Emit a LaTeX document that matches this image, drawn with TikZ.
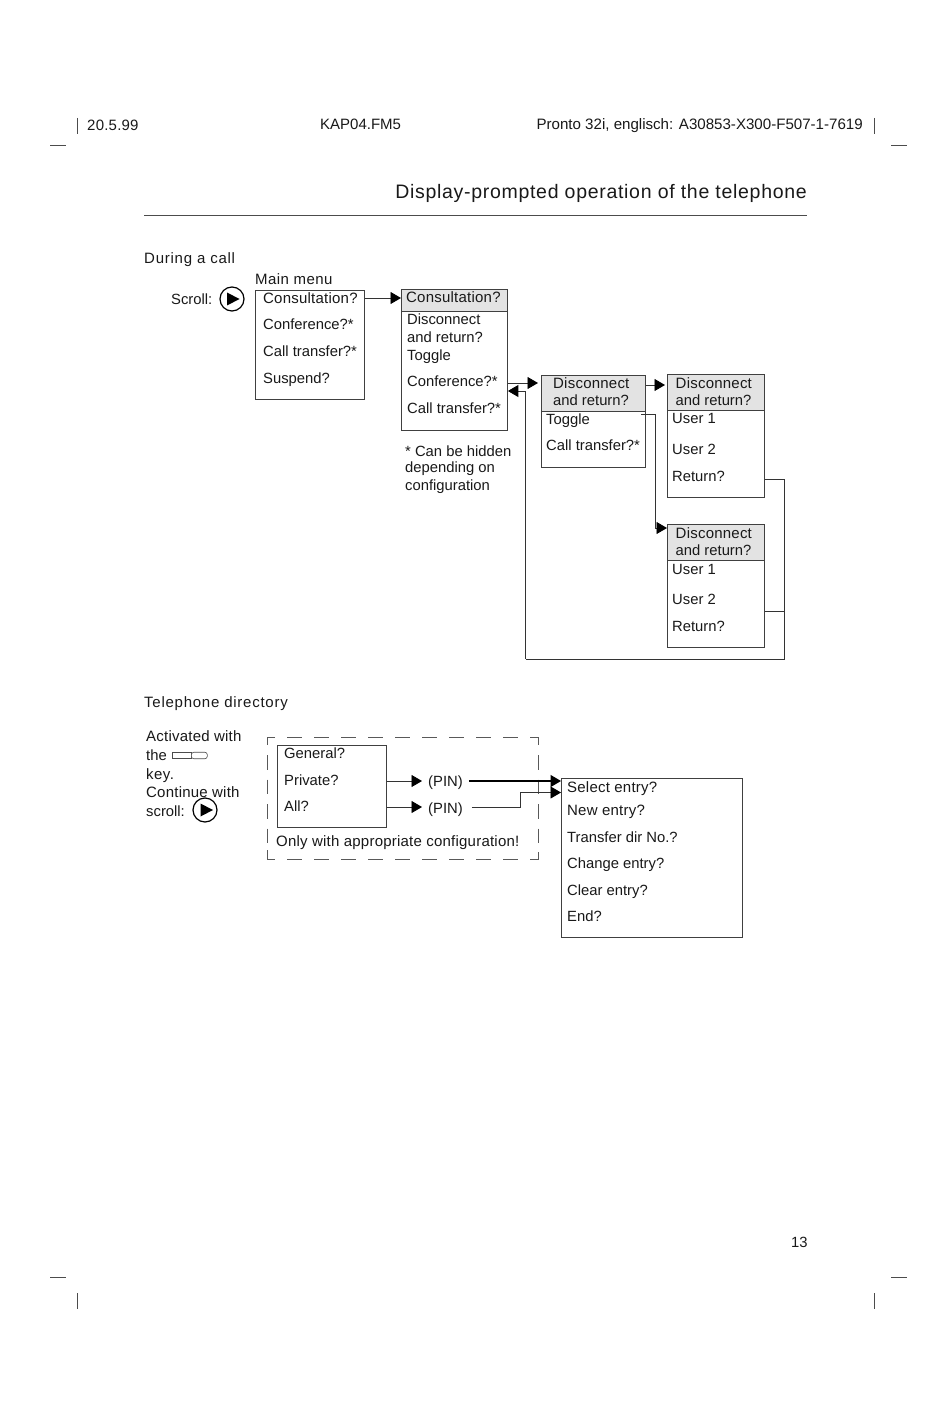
\documentclass[tikz,border=0pt]{standalone}
\usepackage{fontspec}
\setmainfont{Liberation Sans}
\newfontfamily\lsA[LetterSpace=1.5]{Liberation Sans}
\newfontfamily\lsB[LetterSpace=3]{Liberation Sans}
\newfontfamily\lsC[LetterSpace=5]{Liberation Sans}
\newfontfamily\lsT[LetterSpace=3.6]{Liberation Sans}
\usetikzlibrary{arrows.meta}
\tikzset{
  lbl/.style={anchor=base west,inner sep=0pt,font=\fontsize{14.8}{15}\selectfont,text=black!90},
  albl/.style={lbl,font=\fontsize{15}{15}\lsA},
  blbl/.style={lbl,font=\fontsize{15}{15}\lsB},
  clbl/.style={lbl,font=\fontsize{15}{15}\lsC},
  box/.style={draw=black!75,line width=0.9pt,anchor=north west,inner sep=0pt,minimum height=#1},
  hdr/.style={box=#1,fill=black!11},
  conn/.style={draw=black!80,line width=0.9pt},
  arr/.style={conn,-{Triangle[length=10.5pt,width=12pt,fill=black,color=black]}},
  trim/.style={draw=black!70,line width=0.8pt},
  scrollring/.style={circle,draw=black,line width=1.2pt,minimum size=24pt,inner sep=0pt},
  scrolltip/.style={fill=black,draw=none},
  keycap/.style={draw=black!70,line width=0.6pt,fill=white,minimum height=6.5pt,inner sep=0pt,anchor=west},
  frame/.style={draw=black!65,line width=0.8pt}
}
\begin{document}
\begin{tikzpicture}[x=1pt,y=-1pt]
\path[use as bounding box,fill=white] (0,0) rectangle (950,1420);
% crop marks
\draw[trim] (77,118)--(77,134) (874,118)--(874,134) (50,145)--(66,145) (891,145)--(907,145)
 (50,1277)--(66,1277) (891,1277)--(907,1277) (77,1293)--(77,1309) (874,1293)--(874,1309);
% header
\node[albl] (date) at (87,131) {20.5.99};
\node[lbl,font=\fontsize{15}{15}\selectfont] (file) at (320,130) {KAP04.FM5};
\node[lbl,anchor=base east,font=\fontsize{15.1}{15}\selectfont] (prod) at (863,130) {Pronto 32i, englisch: A30853-X300-F507-1-7619};
\node[lbl,anchor=base east,font=\fontsize{19.5}{20}\lsT] (title) at (807,199) {Display-prompted operation of the telephone};
\draw[trim] (144,215.5)--(807,215.5);
\node[lbl] (pageno) at (791,1247) {13};
% During a call
\node[clbl] (during) at (144,264) {During a call};
\node[blbl] (mainmenu) at (255,285) {Main menu};
\node[lbl] (scrolltxt) at (171,305) {Scroll:};
\node[scrollring] (ring1) at (232,299) {};
\fill[scrolltip] (227,292.5)--(239.5,299)--(227,305.5)--cycle;
% main box
\node[box=109pt,minimum width=109pt] (mainbox) at (255,290) {};
\node[albl] (m1) at (263,303) {Consultation?};
\node[lbl] (m2) at (263,329) {Conference?*};
\node[lbl] (m3) at (263,356) {Call transfer?*};
\node[lbl] (m4) at (263,383) {Suspend?};
% consultation box
\node[hdr=22pt,minimum width=106pt] (subhead) at (401,289) {};
\node[box=141pt,minimum width=106pt] (subbox) at (401,289) {};
\node[albl] (s1) at (406,302) {Consultation?};
\node[lbl] (s2) at (407,324) {Disconnect};
\node[lbl] (s3) at (407,342) {and return?};
\node[lbl] (s4) at (407,360) {Toggle};
\node[lbl] (s5) at (407,386.5) {Conference?*};
\node[lbl] (s6) at (407,413.5) {Call transfer?*};
\node[lbl] (n1) at (405,456) {* Can be hidden};
\node[lbl] (n2) at (405,472) {depending on};
\node[lbl] (n3) at (405,490) {configuration};
% box 3
\node[hdr=36pt,minimum width=104pt] (dhead) at (541,375) {};
\node[box=92pt,minimum width=104pt] (dbox) at (541,375) {};
\node[albl] (d1) at (553,388) {Disconnect};
\node[lbl] (d2) at (553,405) {and return?};
\node[lbl] (d3) at (546,424) {Toggle};
\node[lbl] (d4) at (546,450) {Call transfer?*};
% box 4
\node[hdr=36pt,minimum width=97pt] (uhead) at (667,374) {};
\node[box=123pt,minimum width=97pt] (ubox) at (667,374) {};
\node[albl] (u1) at (675.5,388) {Disconnect};
\node[lbl] (u2) at (675.5,405) {and return?};
\node[lbl] (u3) at (672,423.5) {User 1};
\node[lbl] (u4) at (672,454) {User 2};
\node[lbl] (u5) at (672,481) {Return?};
% box 5
\node[hdr=36pt,minimum width=97pt] (vhead) at (667,524) {};
\node[box=123pt,minimum width=97pt] (vbox) at (667,524) {};
\node[albl] (v1) at (675.5,538) {Disconnect};
\node[lbl] (v2) at (675.5,555) {and return?};
\node[lbl] (v3) at (672,574) {User 1};
\node[lbl] (v4) at (672,604) {User 2};
\node[lbl] (v5) at (672,631) {Return?};
% connectors, upper part
\coordinate (toggleout) at (641,414.5);
\coordinate (ubend) at (784,479);
\coordinate (lbend) at (784,659);
\coordinate (lcorner) at (525.5,659);
\draw[arr] (mainbox.east |- 0,298) -- (subbox.west |- 0,298);
\draw[arr,shorten >=3pt] (subbox.east |- 0,383) -- (dbox.west |- 0,383);
\draw[arr,shorten >=2pt] (dbox.east |- 0,385) -- (ubox.west |- 0,385);
\draw[arr] (toggleout) -| (655,528) -- (vbox.west |- 0,528);
\draw[conn] (ubox.east |- ubend) -- (ubend) -- (lbend) -- (lcorner);
\draw[conn] (vbox.east |- 0,611) -- (784,611);
\draw[arr] (lcorner) -- (525.5,391) -- (subbox.east |- 0,391);
% Telephone directory
\node[clbl] (teldir) at (144,707) {Telephone directory};
\node[albl] (a1) at (146,741) {Activated with};
\node[lbl] (a2) at (146,760) {the};
\node[keycap,minimum width=19pt] (key1) at (172,755.5) {};
\node[keycap,rounded corners=2.5pt,minimum width=16pt] (key2) at (191,755.5) {};
\node[blbl] (a3) at (146,779) {key.};
\node[albl] (a4) at (146,797) {Continue with};
\node[lbl] (a5) at (146,816) {scroll:};
\node[scrollring] (ring2) at (205,810) {};
\fill[scrolltip] (200.5,803.5)--(213,810)--(200.5,816.5)--cycle;
% dashed frame
\draw[frame] (275,737.5)--(267.5,737.5)--(267.5,745) (530,737.5)--(538,737.5)--(538,745)
 (267.5,850)--(267.5,859.5)--(275,859.5) (538,852)--(538,859.5)--(530,859.5);
\draw[frame,dash pattern=on 15pt off 12pt] (287,737.5)--(518,737.5) (287,859.5)--(518,859.5);
\draw[frame,dash pattern=on 14.5pt off 10pt] (267.5,755)--(267.5,843) (538,755)--(538,843);
\node[box=82pt,minimum width=109pt] (gbox) at (277,745) {};
\node[lbl] (g1) at (284,758) {General?};
\node[lbl] (g2) at (284,785) {Private?};
\node[lbl] (g3) at (284,811) {All?};
\node[albl] (only) at (276,846) {Only with appropriate configuration!};
\node[lbl] (pin1) at (428,786) {(PIN)};
\node[lbl] (pin2) at (428,813) {(PIN)};
\node[box=159pt,minimum width=181pt] (ebox) at (561,778) {};
\node[albl] (e1) at (567,792) {Select entry?};
\node[albl] (e2) at (567,815) {New entry?};
\node[lbl] (e3) at (567,842) {Transfer dir No.?};
\node[lbl] (e4) at (567,868) {Change entry?};
\node[lbl] (e5) at (567,895) {Clear entry?};
\node[lbl] (e6) at (567,921) {End?};
\draw[arr] (gbox.east |- 0,781) -- ([xshift=-6pt]pin1.west |- 0,781);
\draw[arr] (gbox.east |- 0,807) -- ([xshift=-6pt]pin2.west |- 0,807);
\draw[arr,line width=1.2pt,black] ([xshift=6pt]pin1.east |- 0,781) -- (ebox.west |- 0,781);
\draw[arr] ([xshift=9pt]pin2.east |- 0,807.5) -- (520.5,807.5) -- (520.5,792.5) -- (ebox.west |- 0,792.5);
\end{tikzpicture}
\end{document}
